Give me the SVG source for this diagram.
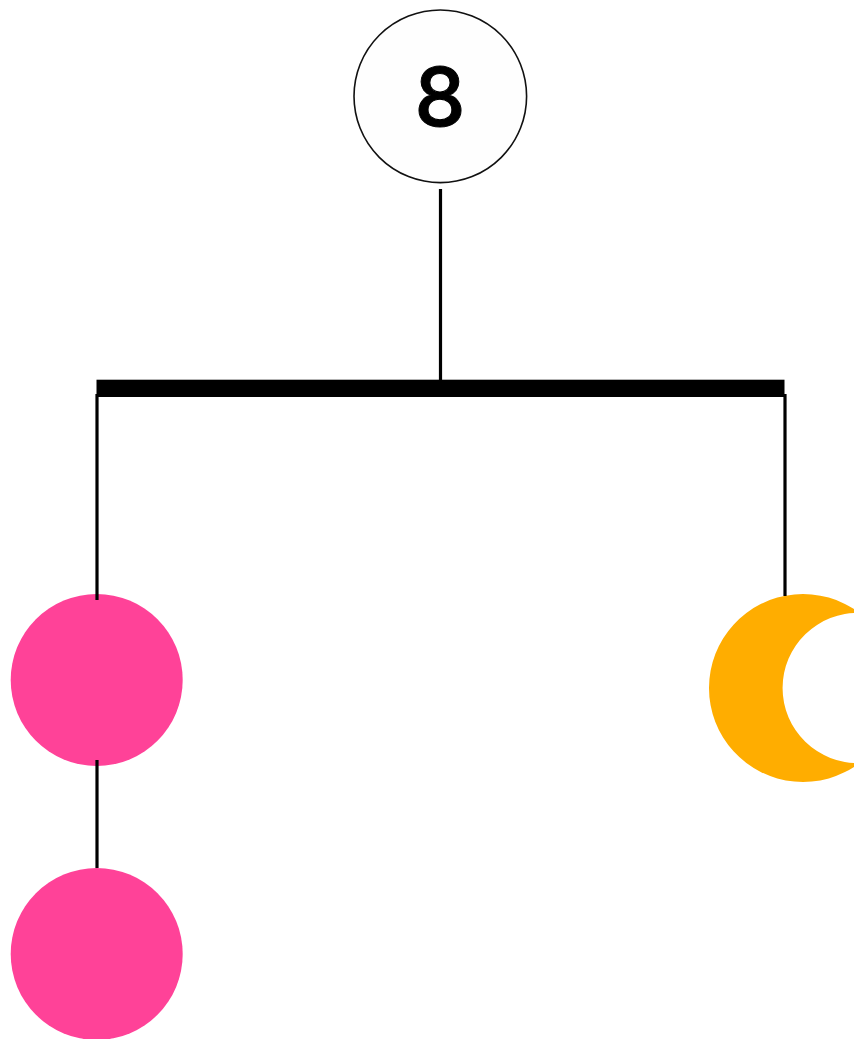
<svg xmlns="http://www.w3.org/2000/svg" width="854" height="1039" viewBox="0 0 854 1039">
  <style>
    .wire { stroke: #000; stroke-width: 3.2; fill: none; }
    .pink { fill: #ff4298; }
    .num { font-family: "Inter", "DejaVu Sans", sans-serif; font-weight: 500; font-size: 81px; fill: #000; stroke: #000; stroke-width: 1; text-anchor: middle; }
  </style>
  <rect width="854" height="1039" fill="#fff"/>
  <g id="counter">
    <circle cx="440.3" cy="96.3" r="86.3" fill="#fefefe" stroke="#111" stroke-width="1.6"/>
    <text class="num" x="440" y="125.5">8</text>
  </g>
  <g id="beam">
    <rect x="96.5" y="379.7" width="688" height="17.3" fill="#000"/>
  </g>
  <g id="circle-top">
    <circle class="pink" cx="96.7" cy="680" r="86"/>
  </g>
  <g id="circle-bottom">
    <circle class="pink" cx="96.7" cy="954" r="86"/>
  </g>
  <g id="moon">
    <path fill="#ffad00" d="M859.7 613.03A94 94 0 1 0 859.7 762.97A75 75 0 1 1 859.7 613.03Z"/>
  </g>
  <g id="connectors">
    <line class="wire" x1="440.5" y1="189" x2="440.5" y2="381"/>
    <line class="wire" x1="97" y1="394" x2="97" y2="600"/>
    <line class="wire" x1="785" y1="394" x2="785" y2="596"/>
    <line class="wire" x1="97" y1="760" x2="97" y2="868"/>
  </g>
</svg>
